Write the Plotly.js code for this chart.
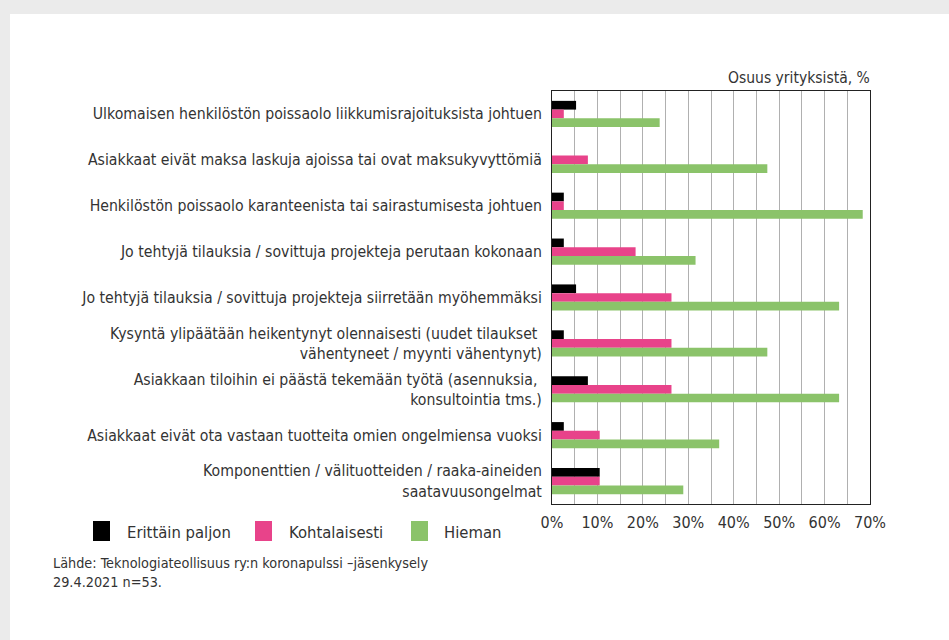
<!DOCTYPE html>
<html>
<head>
<meta charset="utf-8">
<script src="https://cdn.plot.ly/plotly-3.0.1.min.js"></script>
<style>
  html, body { margin: 0; padding: 0; background: #ebebeb; width: 949px; height: 640px; overflow: hidden; }
  #chart { position: absolute; left: 10px; top: 14px; width: 939px; height: 626px; }
</style>
</head>
<body>
<div id="chart"></div>
<script>
// ---- data ----
const categories = [
  "Ulkomaisen henkilöstön poissaolo liikkumisrajoituksista johtuen",
  "Asiakkaat eivät maksa laskuja ajoissa tai ovat maksukyvyttömiä",
  "Henkilöstön poissaolo karanteenista tai sairastumisesta johtuen",
  "Jo tehtyjä tilauksia / sovittuja projekteja perutaan kokonaan",
  "Jo tehtyjä tilauksia / sovittuja projekteja siirretään myöhemmäksi",
  "Kysyntä ylipäätään heikentynyt olennaisesti (uudet tilaukset <br>vähentyneet / myynti vähentynyt)",
  "Asiakkaan tiloihin ei päästä tekemään työtä (asennuksia, <br>konsultointia tms.)",
  "Asiakkaat eivät ota vastaan tuotteita omien ongelmiensa vuoksi",
  "Komponenttien / välituotteiden / raaka-aineiden<br>saatavuusongelmat"
];
const seriesNames = ["Erittäin paljon", "Kohtalaisesti", "Hieman"];
const erittainPaljon = [5.3, 0, 2.6, 2.6, 5.3, 2.6, 7.9, 2.6, 10.5];
const kohtalaisesti  = [2.6, 7.9, 2.6, 18.4, 26.3, 26.3, 26.3, 10.5, 10.5];
const hieman         = [23.7, 47.4, 68.4, 31.6, 63.2, 47.4, 63.2, 36.8, 28.9];
const tickValues = [0, 10, 20, 30, 40, 50, 60, 70];
const tickLabels = ["0%", "10%", "20%", "30%", "40%", "50%", "60%", "70%"];
const axisTitle = "Osuus yrityksistä, %";
const sourceText = "Lähde: Teknologiateollisuus ry:n koronapulssi –jäsenkysely<br>29.4.2021 n=53.";

// ---- styling ----
const colors = ["#000000", "#e8438a", "#8bc36a"];
const FONT = "'DejaVu Sans Condensed', 'DejaVu Sans', sans-serif";
const TXT = "#333333";

const seriesValues = [erittainPaljon, kohtalaisesti, hieman];
const traces = seriesValues.map((vals, i) => ({
  type: "bar",
  orientation: "h",
  name: seriesNames[i],
  y: categories,
  x: vals,
  marker: { color: colors[i], line: { width: 0 } },
  hoverinfo: "x+name"
}));

// plot area in page pixels: x 552..870, y 91..504
const PL = 552, PR = 870, PT = 91, PB = 504;
const px = x => (x - PL) / (PR - PL);
const py = y => (PB - y) / (PB - PT);

const legendX = [93, 255, 411];
const legendTextX = [125, 287, 442];
const shapes = [];
const annotations = [];
legendX.forEach((x0, i) => {
  shapes.push({
    type: "rect", xref: "paper", yref: "paper",
    x0: px(x0), x1: px(x0 + 17), y0: py(541), y1: py(521),
    fillcolor: colors[i], line: { width: 0 }
  });
  annotations.push({
    xref: "paper", yref: "paper", x: px(legendTextX[i]), y: py(532),
    xanchor: "left", yanchor: "middle", showarrow: false,
    text: seriesNames[i], font: { family: FONT, size: 16.5, color: TXT }
  });
});
annotations.push({
  xref: "paper", yref: "paper", x: px(872), y: py(89),
  xanchor: "right", yanchor: "bottom", showarrow: false,
  text: axisTitle, font: { family: FONT, size: 15.5, color: TXT }
});
annotations.push({
  xref: "paper", yref: "paper", x: px(51), y: py(553),
  xanchor: "left", yanchor: "top", showarrow: false, align: "left",
  text: sourceText, font: { family: FONT, size: 14.3, color: TXT }
});

const layout = {
  width: 939, height: 626,
  margin: { l: PL - 10, r: 949 - PR, t: PT - 14, b: 640 - PB },
  paper_bgcolor: "#ffffff",
  plot_bgcolor: "#ffffff",
  barmode: "group",
  bargap: 0.43,
  bargroupgap: 0,
  showlegend: false,
  font: { family: FONT, color: TXT },
  xaxis: {
    range: [0, 70],
    tickvals: tickValues,
    ticktext: tickLabels,
    showgrid: true,
    gridcolor: "#b0b0b0",
    gridwidth: 1,
    minor: { dtick: 5, tick0: 0, showgrid: true, gridcolor: "#b0b0b0", gridwidth: 1 },
    showline: true, mirror: true, linecolor: "#222222", linewidth: 1,
    ticks: "", ticklabelstandoff: 4,
    zeroline: false,
    tickfont: { family: FONT, size: 16, color: TXT },
    fixedrange: true
  },
  yaxis: {
    autorange: "reversed",
    showgrid: false,
    showline: true, mirror: true, linecolor: "#222222", linewidth: 1,
    ticks: "", ticklabelstandoff: 6,
    tickfont: { family: FONT, size: 15.7, color: TXT },
    fixedrange: true
  },
  shapes: shapes,
  annotations: annotations
};

Plotly.newPlot("chart", traces, layout, { displayModeBar: false, staticPlot: true });
</script>
</body>
</html>
